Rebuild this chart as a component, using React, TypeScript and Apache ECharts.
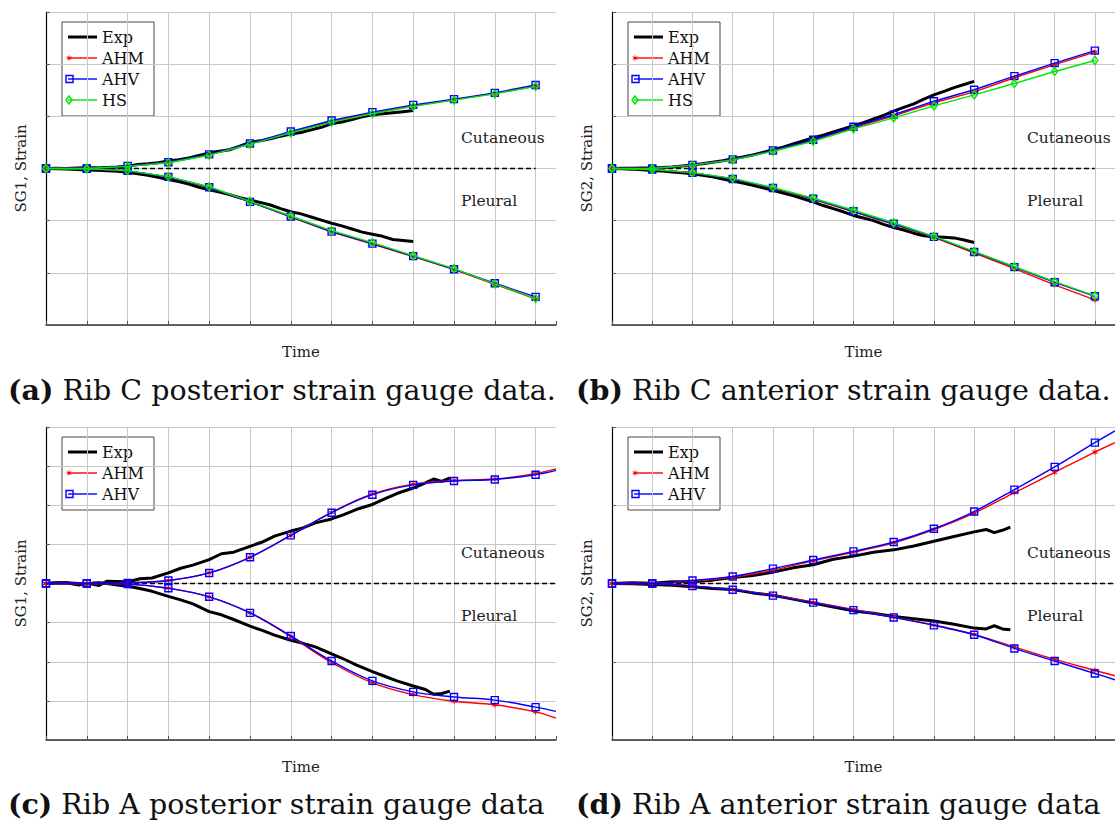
import React, { useEffect, useRef } from "react";
import * as echarts from "echarts";

const FONT = "DejaVu Serif";

// ---------- x positions ----------
const X_MODEL = [0, 1, 2, 3, 4, 5, 6, 7, 8, 9, 10, 11, 12];
const X_MODEL_EXT = [0, 1, 2, 3, 4, 5, 6, 7, 8, 9, 10, 11, 12, 12.5];
const X_EXP_AB = [0, 0.25, 0.5, 0.75, 1, 1.25, 1.5, 1.75, 2, 2.25, 2.5, 2.75, 3, 3.25, 3.5, 3.75, 4, 4.25, 4.5, 4.75, 5, 5.25, 5.5, 5.75, 6, 6.25, 6.5, 6.75, 7, 7.25, 7.5, 7.75, 8, 8.25, 8.5, 8.75, 9];
const X_EXP_C = [0, 0.25, 0.5, 0.8, 1, 1.15, 1.3, 1.5, 1.75, 2, 2.3, 2.6, 3, 3.3, 3.6, 4, 4.3, 4.6, 5, 5.3, 5.6, 6, 6.3, 6.6, 7, 7.3, 7.6, 8, 8.3, 8.6, 9, 9.3, 9.5, 9.7, 9.9];
const X_EXP_D = [0, 0.5, 1, 1.5, 2, 2.5, 3, 3.5, 4, 4.5, 5, 5.5, 6, 6.5, 7, 7.5, 8, 8.5, 9, 9.3, 9.5, 9.7, 9.9];

// ---------- (a) Rib C posterior ----------
const A_EXP_UP = [0, 0.004, 0.002, 0.008, 0.013, 0.012, 0.02, 0.028, 0.045, 0.075, 0.09, 0.11, 0.146, 0.17, 0.2, 0.25, 0.3, 0.33, 0.36, 0.43, 0.5, 0.53, 0.57, 0.62, 0.66, 0.69, 0.74, 0.79, 0.86, 0.89, 0.94, 0.99, 1.03, 1.05, 1.07, 1.09, 1.11];
const A_EXP_LO = [0, -0.004, -0.01, -0.02, -0.03, -0.035, -0.045, -0.055, -0.07, -0.1, -0.13, -0.17, -0.21, -0.25, -0.3, -0.36, -0.41, -0.45, -0.5, -0.56, -0.61, -0.65, -0.7, -0.77, -0.83, -0.87, -0.93, -0.99, -1.05, -1.1, -1.16, -1.22, -1.26, -1.3, -1.36, -1.38, -1.4];
const A_AHM_UP = [0, 0, 0.045, 0.115, 0.26, 0.47, 0.69, 0.9, 1.06, 1.2, 1.32, 1.44, 1.58];
const A_AHV_UP = [0, 0, 0.05, 0.12, 0.27, 0.48, 0.71, 0.92, 1.08, 1.22, 1.33, 1.45, 1.6];
const A_HS_UP = [0, 0, 0.04, 0.11, 0.255, 0.465, 0.685, 0.89, 1.05, 1.19, 1.31, 1.43, 1.575];
const A_AHM_LO = [0, -0.006, -0.045, -0.16, -0.36, -0.64, -0.93, -1.22, -1.45, -1.69, -1.94, -2.22, -2.5];
const A_AHV_LO = [0, -0.006, -0.045, -0.16, -0.36, -0.64, -0.92, -1.21, -1.44, -1.68, -1.93, -2.2, -2.46];
const A_HS_LO = [0, -0.006, -0.04, -0.155, -0.35, -0.63, -0.91, -1.19, -1.42, -1.67, -1.92, -2.21, -2.49];

// ---------- (b) Rib C anterior ----------
const B_EXP_UP = [0, 0.003, 0.006, 0.01, 0.013, 0.02, 0.03, 0.05, 0.07, 0.09, 0.12, 0.15, 0.185, 0.22, 0.26, 0.31, 0.36, 0.41, 0.47, 0.53, 0.59, 0.64, 0.7, 0.76, 0.82, 0.88, 0.95, 1.02, 1.1, 1.17, 1.24, 1.33, 1.41, 1.48, 1.55, 1.61, 1.67];
const B_EXP_LO = [0, -0.005, -0.012, -0.025, -0.04, -0.05, -0.065, -0.08, -0.1, -0.13, -0.16, -0.2, -0.24, -0.28, -0.32, -0.37, -0.42, -0.47, -0.52, -0.58, -0.64, -0.71, -0.77, -0.83, -0.9, -0.95, -1.0, -1.07, -1.13, -1.18, -1.24, -1.29, -1.31, -1.32, -1.33, -1.37, -1.42];
const B_AHM_UP = [0, 0, 0.064, 0.17, 0.34, 0.54, 0.78, 1.01, 1.26, 1.47, 1.74, 1.99, 2.23];
const B_AHV_UP = [0, 0, 0.07, 0.175, 0.345, 0.55, 0.8, 1.03, 1.29, 1.51, 1.77, 2.02, 2.26];
const B_HS_UP = [0, 0, 0.064, 0.165, 0.33, 0.52, 0.76, 0.97, 1.2, 1.41, 1.63, 1.86, 2.07];
const B_AHM_LO = [0, -0.02, -0.083, -0.2, -0.38, -0.59, -0.83, -1.07, -1.32, -1.62, -1.92, -2.23, -2.52];
const B_AHV_LO = [0, -0.02, -0.083, -0.2, -0.375, -0.58, -0.82, -1.06, -1.31, -1.6, -1.89, -2.18, -2.45];
const B_HS_LO = [0, -0.02, -0.08, -0.19, -0.365, -0.57, -0.8, -1.04, -1.3, -1.59, -1.88, -2.17, -2.44];

// ---------- (c) Rib A posterior ----------
const C_EXP_UP = [0, 0.02, 0.017, -0.04, 0.009, -0.02, -0.05, 0.06, 0.05, 0.04, 0.12, 0.14, 0.27, 0.39, 0.47, 0.61, 0.76, 0.8, 0.95, 1.06, 1.21, 1.34, 1.42, 1.55, 1.65, 1.76, 1.89, 2.02, 2.16, 2.3, 2.44, 2.57, 2.67, 2.61, 2.7];
const C_EXP_LO = [0, 0.01, 0.017, 0.0, -0.017, 0.01, 0.02, 0.0, -0.04, -0.07, -0.13, -0.2, -0.33, -0.42, -0.52, -0.72, -0.8, -0.92, -1.09, -1.2, -1.32, -1.45, -1.53, -1.62, -1.8, -1.93, -2.08, -2.25, -2.37, -2.49, -2.62, -2.71, -2.83, -2.81, -2.75];
const C_AHM_UP = [0, 0, 0.017, 0.077, 0.27, 0.67, 1.23, 1.82, 2.29, 2.54, 2.63, 2.67, 2.81, 2.93];
const C_AHV_UP = [0, 0, 0.017, 0.075, 0.27, 0.67, 1.23, 1.81, 2.27, 2.52, 2.62, 2.66, 2.78, 2.89];
const C_AHM_LO = [0, 0, -0.017, -0.12, -0.34, -0.75, -1.36, -2.02, -2.54, -2.84, -3.01, -3.1, -3.28, -3.44];
const C_AHV_LO = [0, 0, -0.017, -0.12, -0.34, -0.75, -1.34, -1.98, -2.49, -2.77, -2.9, -2.98, -3.16, -3.27];

// ---------- (d) Rib A anterior ----------
const D_EXP_UP = [0, 0.009, 0.004, 0.021, 0.021, 0.043, 0.077, 0.102, 0.145, 0.2, 0.24, 0.31, 0.35, 0.4, 0.43, 0.48, 0.54, 0.6, 0.66, 0.69, 0.65, 0.68, 0.72];
const D_EXP_LO = [0, -0.004, -0.013, -0.021, -0.043, -0.064, -0.077, -0.12, -0.15, -0.2, -0.25, -0.3, -0.35, -0.38, -0.42, -0.45, -0.48, -0.52, -0.57, -0.58, -0.54, -0.58, -0.59];
const D_AHM_UP = [0, 0, 0.03, 0.08, 0.17, 0.29, 0.4, 0.52, 0.69, 0.9, 1.16, 1.42, 1.68, 1.8];
const D_AHV_UP = [0, 0, 0.038, 0.09, 0.19, 0.3, 0.41, 0.53, 0.7, 0.92, 1.2, 1.49, 1.8, 1.95];
const D_AHM_LO = [0, 0, -0.034, -0.077, -0.15, -0.24, -0.33, -0.43, -0.53, -0.65, -0.81, -0.97, -1.11, -1.18];
const D_AHV_LO = [0, 0, -0.034, -0.08, -0.155, -0.245, -0.34, -0.435, -0.535, -0.655, -0.83, -0.99, -1.15, -1.23];

// ---------- texts ----------
const Y_NAMES = ["SG1, Strain", "SG2, Strain", "SG1, Strain", "SG2, Strain"];
const X_NAME = "Time";
const CAPTIONS = [
  ["(a)", " Rib C posterior strain gauge data."],
  ["(b)", " Rib C anterior strain gauge data."],
  ["(c)", " Rib A posterior strain gauge data"],
  ["(d)", " Rib A anterior strain gauge data"],
];
const UPPER_LABEL = "Cutaneous";
const LOWER_LABEL = "Pleural";
const Y_RANGES = [[-3, 3], [-3, 3], [-4, 4], [-2, 2]];
const ZERO_END = [12, 12, 12.5, 12.5];

// ---------- geometry / styles ----------
const STAR_PTS: number[][] = [
  [0, -5], [0.9, -1.56], [4.33, -2.5], [1.8, 0], [4.33, 2.5], [0.9, 1.56],
  [0, 5], [-0.9, 1.56], [-4.33, 2.5], [-1.8, 0], [-4.33, -2.5], [-0.9, -1.56],
];
const STAR_PATH = "path://M" + STAR_PTS.map((p) => p.join(",")).join(" L") + " Z";

const RED = "#ff0000";
const BLUE = "#0000ff";
const GREEN = "#00e600";

const GRIDS = [
  { left: 46, top: 12 },
  { left: 612, top: 12 },
  { left: 46, top: 427 },
  { left: 612, top: 427 },
];
const GRID_W = 510;
const GRID_H = 313;

function pts(xs: number[], ys: number[]) {
  return ys.map((y, i) =>
    xs[i] > 12 ? { value: [xs[i], y], symbol: "none" } : [xs[i], y]
  );
}

function expSeries(gi: number, xs: number[], ys: number[]) {
  return {
    type: "line", name: "Exp", xAxisIndex: gi, yAxisIndex: gi,
    data: pts(xs, ys), symbol: "none", showSymbol: false,
    lineStyle: { color: "#000", width: 3 }, itemStyle: { color: "#000" }, z: 3,
  };
}
function ahmSeries(gi: number, xs: number[], ys: number[], smooth: number) {
  return {
    type: "line", name: "AHM", xAxisIndex: gi, yAxisIndex: gi,
    data: pts(xs, ys), symbol: STAR_PATH, symbolSize: 7, smooth,
    lineStyle: { color: RED, width: 1.4 }, itemStyle: { color: RED }, z: 4,
  };
}
function ahvSeries(gi: number, xs: number[], ys: number[], smooth: number) {
  return {
    type: "line", name: "AHV", xAxisIndex: gi, yAxisIndex: gi,
    data: pts(xs, ys), symbol: "rect", symbolSize: 7, smooth,
    lineStyle: { color: BLUE, width: 1.4 },
    itemStyle: { color: "rgba(0,0,0,0)", borderColor: BLUE, borderWidth: 1.4 }, z: 5,
  };
}
function hsSeries(gi: number, xs: number[], ys: number[]) {
  return {
    type: "line", name: "HS", xAxisIndex: gi, yAxisIndex: gi,
    data: pts(xs, ys), symbol: "diamond", symbolSize: [6, 8],
    lineStyle: { color: GREEN, width: 1.4 },
    itemStyle: { color: "rgba(0,0,0,0)", borderColor: GREEN, borderWidth: 1.4 }, z: 6,
  };
}
function zeroSeries(gi: number) {
  return {
    type: "line", name: "zero", xAxisIndex: gi, yAxisIndex: gi,
    data: [[0, 0], [ZERO_END[gi], 0]], symbol: "none", silent: true,
    lineStyle: { color: "#000", width: 1.4, type: [5, 3] }, z: 2,
  };
}

function legendGroup(gi: number, items: string[]) {
  const g = GRIDS[gi];
  const left = g.left + 16;
  const top = g.top + 10;
  const rowH = 21;
  const h = items.length * rowH + 10;
  const children: any[] = [
    { type: "rect", shape: { x: 0, y: 0, width: 92, height: h }, style: { fill: "#fff", stroke: "#444", lineWidth: 1 } },
  ];
  items.forEach((name, i) => {
    const y = 15 + rowH * i;
    const col = name === "Exp" ? "#000" : name === "AHM" ? RED : name === "AHV" ? BLUE : GREEN;
    children.push({ type: "line", shape: { x1: 6, y1: y, x2: 35, y2: y }, style: { stroke: col, lineWidth: name === "Exp" ? 3 : 1.4 } });
    if (name === "AHM") {
      children.push({ type: "polygon", shape: { points: STAR_PTS.map((p) => [7 + p[0] * 0.7, y + p[1] * 0.7]) }, style: { fill: RED } });
    } else if (name === "AHV") {
      children.push({ type: "rect", shape: { x: 4, y: y - 3.5, width: 7, height: 7 }, style: { fill: "none", stroke: BLUE, lineWidth: 1.4 } });
    } else if (name === "HS") {
      children.push({ type: "polygon", shape: { points: [[7, y - 4], [10, y], [7, y + 4], [4, y]] }, style: { fill: "none", stroke: GREEN, lineWidth: 1.4 } });
    }
    children.push({ type: "text", x: 40, y, style: { text: name, fontFamily: FONT, fontSize: 16, fill: "#111", verticalAlign: "middle", align: "left" } });
  });
  return { type: "group", x: left, y: top, z: 100, children };
}

export default function App() {
  const ref = useRef<HTMLDivElement>(null);
  useEffect(() => {
    if (!ref.current) return;
    const chart = echarts.init(ref.current, undefined, { renderer: "svg" });

    const grid = GRIDS.map((g) => ({ left: g.left, top: g.top, width: GRID_W, height: GRID_H, containLabel: false }));
    const xAxis = GRIDS.map((_, i) => ({
      gridIndex: i, type: "value", min: 0, max: 12.5, interval: 1,
      name: X_NAME, nameLocation: "middle", nameGap: 19,
      nameTextStyle: { fontFamily: FONT, fontSize: 15, color: "#222" },
      axisLabel: { show: false },
      axisLine: { show: true, onZero: false, lineStyle: { color: "#333", width: 1.5 } },
      axisTick: { show: true, inside: true, length: 4, lineStyle: { color: "#555" } },
      splitLine: { show: true, showMaxLine: false, lineStyle: { color: "#c8c8c8", width: 1 } },
    }));
    const yAxis = GRIDS.map((_, i) => ({
      gridIndex: i, type: "value", min: Y_RANGES[i][0], max: Y_RANGES[i][1], interval: 1,
      name: Y_NAMES[i], nameLocation: "middle", nameGap: 18, nameRotate: 90,
      nameTextStyle: { fontFamily: FONT, fontSize: 15, color: "#222" },
      axisLabel: { show: false },
      axisLine: { show: true, onZero: false, lineStyle: { color: "#000", width: 1.2 } },
      axisTick: { show: true, inside: true, length: 4, lineStyle: { color: "#555" } },
      splitLine: { show: true, lineStyle: { color: "#c8c8c8", width: 1 } },
    }));

    const series: any[] = [
      zeroSeries(0),
      expSeries(0, X_EXP_AB, A_EXP_UP), expSeries(0, X_EXP_AB, A_EXP_LO),
      ahmSeries(0, X_MODEL, A_AHM_UP, 0), ahmSeries(0, X_MODEL, A_AHM_LO, 0),
      ahvSeries(0, X_MODEL, A_AHV_UP, 0), ahvSeries(0, X_MODEL, A_AHV_LO, 0),
      hsSeries(0, X_MODEL, A_HS_UP), hsSeries(0, X_MODEL, A_HS_LO),

      zeroSeries(1),
      expSeries(1, X_EXP_AB, B_EXP_UP), expSeries(1, X_EXP_AB, B_EXP_LO),
      ahmSeries(1, X_MODEL, B_AHM_UP, 0), ahmSeries(1, X_MODEL, B_AHM_LO, 0),
      ahvSeries(1, X_MODEL, B_AHV_UP, 0), ahvSeries(1, X_MODEL, B_AHV_LO, 0),
      hsSeries(1, X_MODEL, B_HS_UP), hsSeries(1, X_MODEL, B_HS_LO),

      zeroSeries(2),
      expSeries(2, X_EXP_C, C_EXP_UP), expSeries(2, X_EXP_C, C_EXP_LO),
      ahmSeries(2, X_MODEL_EXT, C_AHM_UP, 0.4), ahmSeries(2, X_MODEL_EXT, C_AHM_LO, 0.4),
      ahvSeries(2, X_MODEL_EXT, C_AHV_UP, 0.4), ahvSeries(2, X_MODEL_EXT, C_AHV_LO, 0.4),

      zeroSeries(3),
      expSeries(3, X_EXP_D, D_EXP_UP), expSeries(3, X_EXP_D, D_EXP_LO),
      ahmSeries(3, X_MODEL_EXT, D_AHM_UP, 0.3), ahmSeries(3, X_MODEL_EXT, D_AHM_LO, 0.3),
      ahvSeries(3, X_MODEL_EXT, D_AHV_UP, 0.3), ahvSeries(3, X_MODEL_EXT, D_AHV_LO, 0.3),
    ];

    const graphic: any[] = [
      legendGroup(0, ["Exp", "AHM", "AHV", "HS"]),
      legendGroup(1, ["Exp", "AHM", "AHV", "HS"]),
      legendGroup(2, ["Exp", "AHM", "AHV"]),
      legendGroup(3, ["Exp", "AHM", "AHV"]),
    ];
    GRIDS.forEach((g, i) => {
      graphic.push({ type: "text", x: g.left + 415, y: g.top + 126, z: 50, style: { text: UPPER_LABEL, fontFamily: FONT, fontSize: 15.5, fill: "#222", verticalAlign: "middle" } });
      graphic.push({ type: "text", x: g.left + 415, y: g.top + 189, z: 50, style: { text: LOWER_LABEL, fontFamily: FONT, fontSize: 15.5, fill: "#222", verticalAlign: "middle" } });
      const cx = i % 2 === 0 ? 8 : 576;
      const cy = i < 2 ? 390 : 804;
      graphic.push({
        type: "text", x: cx, y: cy, z: 50,
        style: {
          text: "{b|" + CAPTIONS[i][0] + "}{n|" + CAPTIONS[i][1] + "}",
          verticalAlign: "middle",
          rich: {
            b: { fontFamily: FONT, fontSize: 28.5, fontWeight: "bold", fill: "#111" },
            n: { fontFamily: FONT, fontSize: 28.5, fill: "#111" },
          },
        },
      });
    });

    chart.setOption({
      animation: false,
      backgroundColor: "#fff",
      grid, xAxis, yAxis, series, graphic,
    });
    return () => chart.dispose();
  }, []);

  return <div ref={ref} style={{ position: "fixed", left: 0, top: 0, width: 1115, height: 828 }} />;
}
